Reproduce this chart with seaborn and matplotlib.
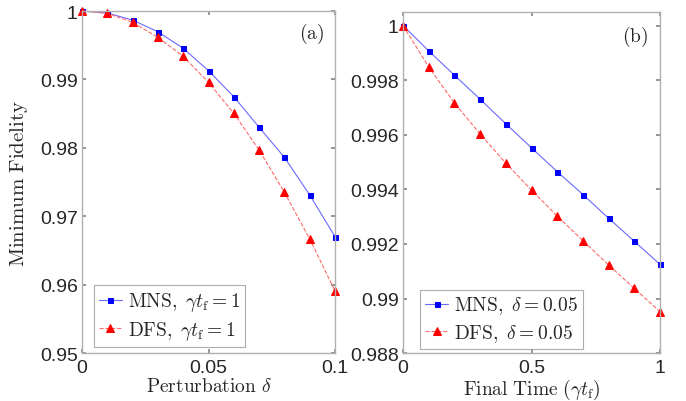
import numpy as np
import pandas as pd
import matplotlib
matplotlib.use('Agg')
import matplotlib.pyplot as plt
import seaborn as sns

# Panel (a): minimum fidelity vs perturbation delta (gamma t_f = 1)
delta = [0, 0.01, 0.02, 0.03, 0.04, 0.05, 0.06, 0.07, 0.08, 0.09, 0.1]
mns_a = [1.0, 0.99971, 0.99868, 0.99697, 0.99455, 0.99128, 0.98747, 0.98300, 0.97861, 0.97310, 0.96700]
dfs_a = [1.0, 0.99966, 0.99835, 0.99615, 0.99338, 0.98958, 0.98504, 0.97968, 0.97349, 0.96667, 0.95906]

# Panel (b): minimum fidelity vs final time (delta = 0.05)
tf = [0, 0.1, 0.2, 0.3, 0.4, 0.5, 0.6, 0.7, 0.8, 0.9, 1.0]
mns_b = [1.0, 0.99907, 0.99818, 0.99730, 0.99640, 0.99552, 0.99465, 0.99381, 0.99294, 0.99210, 0.99125]
dfs_b = [1.0, 0.99848, 0.99716, 0.99603, 0.99496, 0.99397, 0.99302, 0.99212, 0.99123, 0.99037, 0.98952]

xticks_a = [0, 0.05, 0.1]
xticklabels_a = ['0', '0.05', '0.1']
yticks_a = [0.95, 0.96, 0.97, 0.98, 0.99, 1.0]
yticklabels_a = ['0.95', '0.96', '0.97', '0.98', '0.99', '1']
xticks_b = [0, 0.5, 1]
xticklabels_b = ['0', '0.5', '1']
yticks_b = [0.988, 0.99, 0.992, 0.994, 0.996, 0.998, 1.0]
yticklabels_b = ['0.988', '0.99', '0.992', '0.994', '0.996', '0.998', '1']

sns.set_theme(style='white')
plt.rcParams['font.family'] = ['Liberation Serif', 'DejaVu Serif']
plt.rcParams['mathtext.fontset'] = 'cm'

fig = plt.figure(figsize=(6.86, 4.02), dpi=100)
ax1 = fig.add_axes([0.1195, 0.119, 0.369, 0.851])
ax2 = fig.add_axes([0.5875, 0.119, 0.3746, 0.849])

def draw(ax, x, y1, y2, lab1, lab2, anchor):
    sns.lineplot(x=x, y=y1, ax=ax, color='#6a6aff', marker='s', markersize=3.6,
                 markerfacecolor='blue', markeredgecolor='blue', linewidth=0.8, label=lab1)
    sns.lineplot(x=x, y=y2, ax=ax, color='#ff6a6a', marker='^', markersize=5.2,
                 markerfacecolor='red', markeredgecolor='red', linewidth=0.8,
                 linestyle='--', label=lab2)
    for s in ax.spines.values():
        s.set_color('#b0b0b0')
        s.set_linewidth(1.0)
    ax.tick_params(direction='in', top=True, right=True, length=3, color='#888888',
                   labelsize=14, bottom=True, left=True)
    ax.tick_params(axis='x', pad=4)
    ax.tick_params(axis='y', pad=3)
    leg = ax.legend(loc='lower left', bbox_to_anchor=anchor, fontsize=14, frameon=True,
                    fancybox=False, edgecolor='#999999', handlelength=1.2,
                    borderaxespad=0, borderpad=0.25, labelspacing=0.3, handletextpad=0.3)
    leg.get_frame().set_linewidth(0.8)

draw(ax1, delta, mns_a, dfs_a, r'$\mathrm{MNS,}\ \gamma t_{\rm f} = 1$',
     r'$\mathrm{DFS,}\ \gamma t_{\rm f} = 1$', (0.047, 0.018))
ax1.set_xlim(0, 0.1)
ax1.set_ylim(0.95, 1.0)
ax1.set_xticks(xticks_a)
ax1.set_xticklabels(xticklabels_a, family='Liberation Sans')
ax1.set_yticks(yticks_a)
ax1.set_yticklabels(yticklabels_a, family='Liberation Sans')
ax1.set_xlabel(r'$\mathrm{Perturbation}\ \delta$', fontsize=14, labelpad=1)
ax1.set_ylabel(r'$\mathrm{Minimum\ Fidelity}$', fontsize=15, labelpad=7)
ax1.text(0.905, 0.935, r'$\mathrm{(a)}$', transform=ax1.transAxes, fontsize=14,
         ha='center', va='center')

draw(ax2, tf, mns_b, dfs_b, r'$\mathrm{MNS,}\ \delta = 0.05$',
     r'$\mathrm{DFS,}\ \delta = 0.05$', (0.066, 0.012))
ax2.set_xlim(0, 1)
ax2.set_ylim(0.988, 1.0005)
ax2.set_xticks(xticks_b)
ax2.set_xticklabels(xticklabels_b, family='Liberation Sans')
ax2.set_yticks(yticks_b)
ax2.set_yticklabels(yticklabels_b, family='Liberation Sans')
ax2.set_xlabel(r'$\mathrm{Final\ Time}\ (\gamma t_{\rm f})$', fontsize=14, labelpad=1)
ax2.set_ylabel('')
ax2.text(0.903, 0.93, r'$\mathrm{(b)}$', transform=ax2.transAxes, fontsize=14,
         ha='center', va='center')

for ax in (ax1, ax2):
    for ln in ax.lines:
        ln.set_clip_on(False)

fig.savefig('out.png', dpi=100)
